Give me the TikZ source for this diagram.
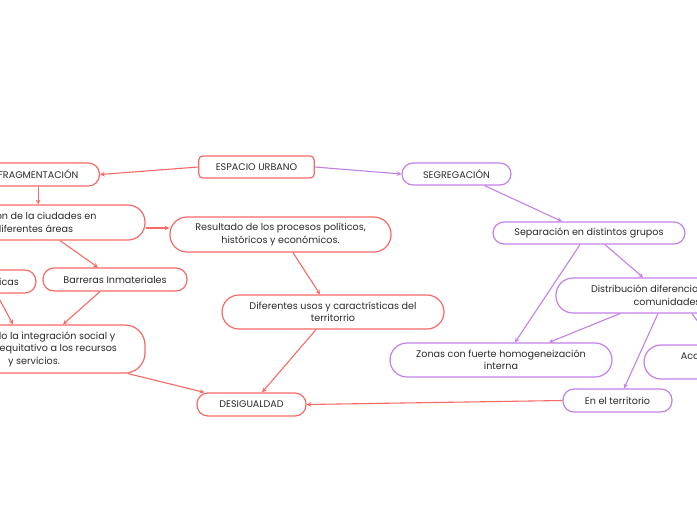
\documentclass[tikz,border=0pt]{standalone}
\usepackage{fontspec}
\setmainfont{Poppins}
\usetikzlibrary{arrows}
\definecolor{mapred}{HTML}{F66A66}
\definecolor{mappurple}{HTML}{C380E8}
\definecolor{maptext}{HTML}{2B2B2B}

\begin{document}
\begin{tikzpicture}[x=1pt, y=-1pt, >=stealth,
    every node/.style={font=\fontsize{9.6}{12.5}\selectfont, text=maptext, align=center,
        inner xsep=17pt, inner ysep=0pt, fill=white, line width=1.2pt},
    redbox/.style={draw=mapred, rounded corners=11pt, minimum height=23pt},
    purplebox/.style={draw=mappurple, rounded corners=11pt, minimum height=23pt},
    redwide/.style={draw=mapred, rounded corners=17pt, minimum width=222pt, minimum height=35pt},
    purplewide/.style={draw=mappurple, rounded corners=17pt, minimum width=222pt, minimum height=35pt},
    redlink/.style={draw=mapred, line width=1.1pt, ->},
    purplelink/.style={draw=mappurple, line width=1.1pt, ->}]
                \useasboundingbox (0,0) rectangle (697,520);
                \clip (0,0) rectangle (697,520);

                % centre
                \node[redbox, rounded corners=4pt, minimum width=113pt, minimum height=22pt] (espacio) at (256.5,167) {ESPACIO URBANO};

                % fragmentation side
                \node[redbox, anchor=east, inner xsep=21pt] (frag) at (100,174.5) {FRAGMENTACIÓN};
                \node[redwide] (division) at (34,222.5) {División de la ciudades en\\diferentes áreas};
                \node[redwide, minimum width=221pt] (result) at (280.5,234.5) {Resultado de los procesos políticos,\\históricos y económicos.};
                \node[redbox, anchor=east] (fisicas) at (36.5,281.5) {Barreras Físicas};
                \node[redbox, minimum width=144pt] (inmat) at (115,279.5) {Barreras Inmateriales};
                \node[redwide, minimum height=48pt, rounded corners=20pt] (dificulta) at (34,349) {Impidiendo la integración social y\\el acceso equitativo a los recursos\\y servicios.};
                \node[redwide, minimum height=34pt] (usos) at (333,312) {Diferentes usos y caractrísticas del\\territorrio};
                \node[redbox, minimum width=109pt] (desig) at (251.5,404.5) {DESIGUALDAD};

                % segregation side
                \node[purplebox, minimum width=109pt, minimum height=22pt] (segreg) at (456.5,174) {SEGREGACIÓN};
                \node[purplebox, minimum width=192pt, minimum height=22pt] (separa) at (589,233) {Separación en distintos grupos};
                \node[purplewide] (distrib) at (667,295.5) {Distribución diferenciada de las\\comunidades};
                \node[purplewide, minimum height=34pt] (zonas) at (501,360) {Zonas con fuerte homogeneización\\interna};
                \node[purplewide, minimum height=34pt] (acceso) at (755,362) {Acceso desigual a los servicios\\urbanos};
                \node[purplebox, minimum width=109pt] (territ) at (617.5,400.5) {En el territorio};

                % red links
                \draw[redlink] (espacio.west) -- (frag.east);
                \draw[redlink] (frag.south) -- (frag.south |- division.north);
                \draw[redlink] ([yshift=-5.5pt]division.east) -- ([yshift=6.5pt]result.west);
                \draw[redlink] ([xshift=26pt]division.south) -- ([xshift=-17pt]inmat.north);
                \draw[redlink] ([xshift=15pt]fisicas.south) -- ([xshift=-21pt]dificulta.north);
                \draw[redlink] ([xshift=-15pt]inmat.south) -- ([xshift=29pt]dificulta.north);
                \draw[redlink] ([xshift=94pt]dificulta.south) -- ([xshift=8pt]desig.north west);
                \draw[redlink] ([xshift=12.5pt]result.south) -- ([xshift=-13pt]usos.north);
                \draw[redlink] ([xshift=-17pt]usos.south) -- ([xshift=10.5pt]desig.north);
                \draw[redlink] (territ.west) -- (desig.east);

                % purple links
                \draw[purplelink] (espacio.east) -- (segreg.west);
                \draw[purplelink] ([xshift=28pt]segreg.south) -- ([xshift=-27pt]separa.north);
                \draw[purplelink] ([xshift=-9pt]separa.south) -- ([xshift=14pt]zonas.north);
                \draw[purplelink] ([xshift=16pt]separa.south) -- ([xshift=-24pt]distrib.north);
                \draw[purplelink] ([xshift=-47pt]distrib.south) -- ([xshift=48pt]zonas.north);
                \draw[purplelink] ([xshift=-9pt]distrib.south) -- ([xshift=6.5pt]territ.north);
                \draw[purplelink] ([xshift=25pt]distrib.south) -- ([xshift=-40pt]acceso.north);
            \end{tikzpicture}
\end{document}
